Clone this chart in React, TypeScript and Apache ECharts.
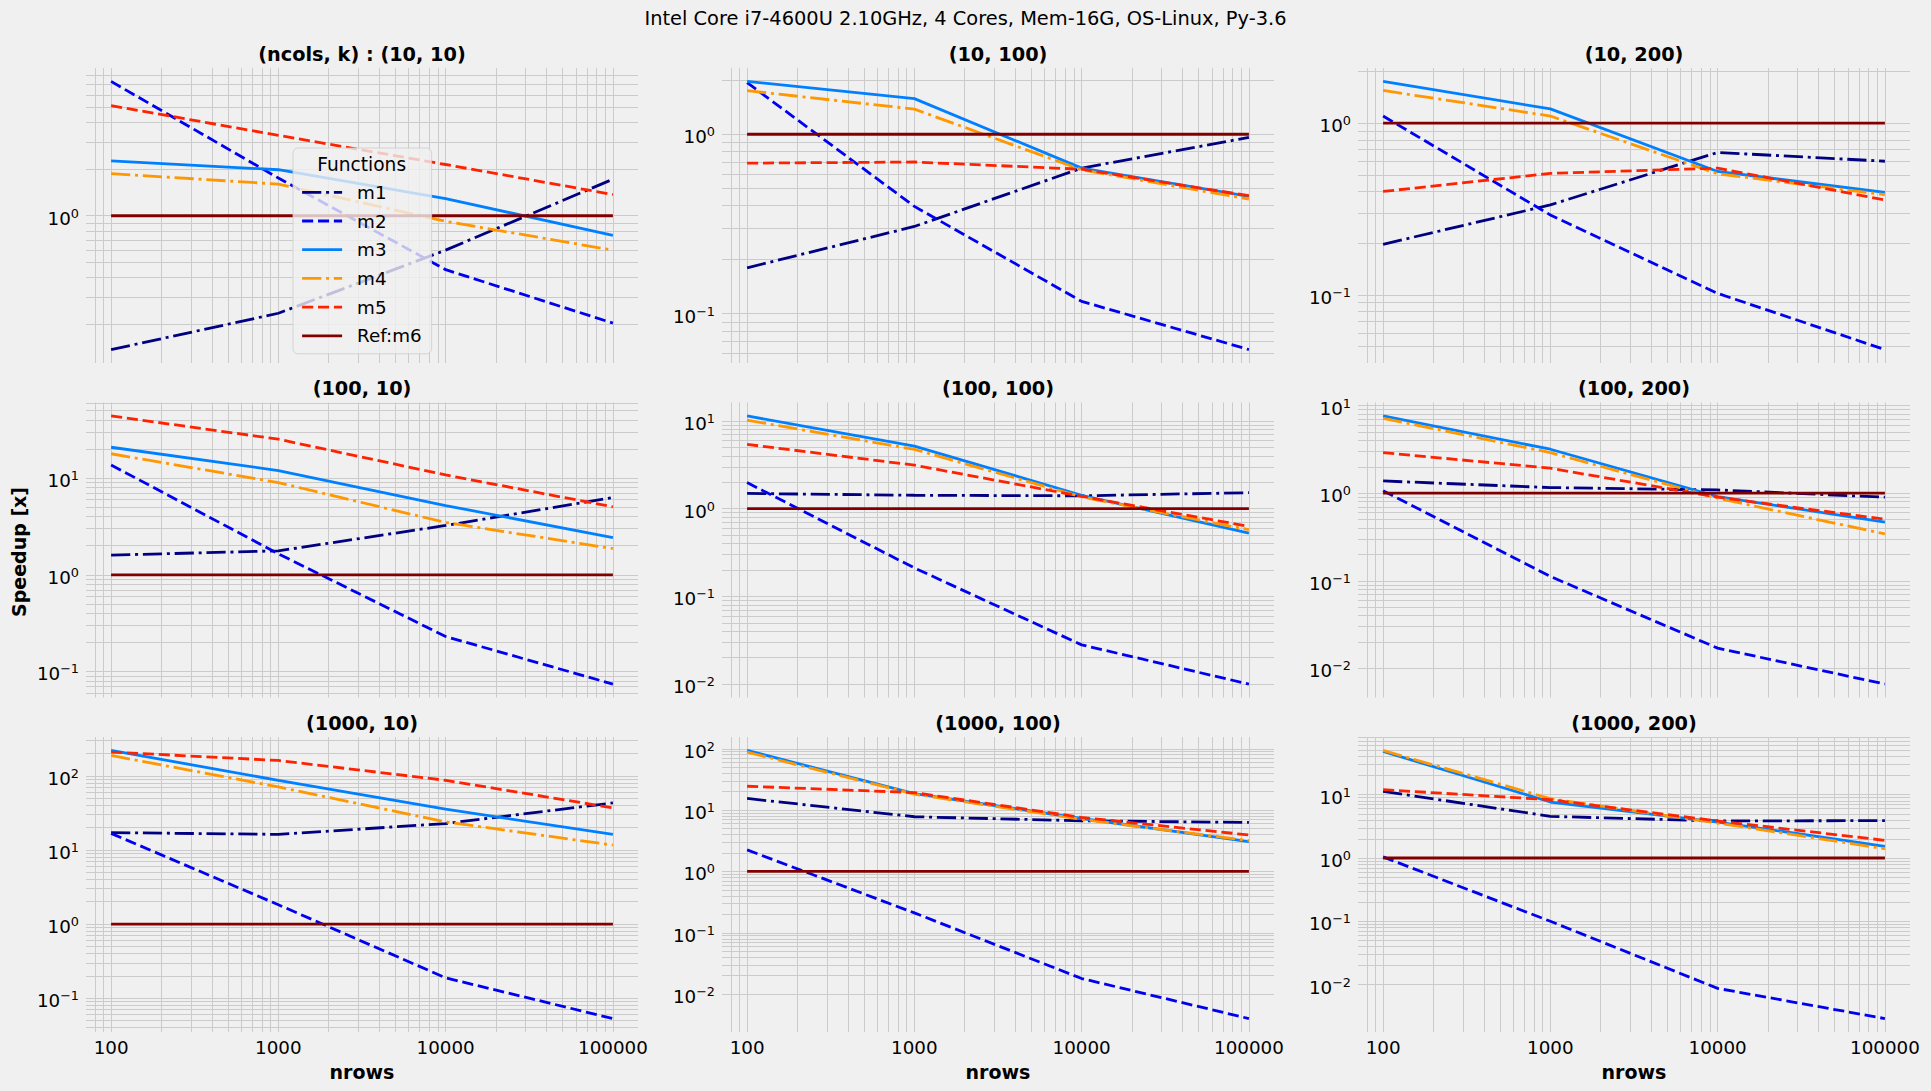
import React, { useEffect, useRef } from 'react';
import * as echarts from 'echarts';

// ---------------- data ----------------
const NROWS = [100, 1000, 10000, 100000];

const PANEL_TITLES = [
  '(ncols, k) : (10, 10)', '(10, 100)', '(10, 200)',
  '(100, 10)', '(100, 100)', '(100, 200)',
  '(1000, 10)', '(1000, 100)', '(1000, 200)',
];

const SUPTITLE = 'Intel Core i7-4600U 2.10GHz, 4 Cores, Mem-16G, OS-Linux, Py-3.6';
const X_LABEL = 'nrows';
const Y_LABEL = 'Speedup [x]';
const LEGEND_TITLE = 'Functions';
const SERIES_NAMES = ['m1', 'm2', 'm3', 'm4', 'm5', 'Ref:m6'];

// speedup per panel (row-major), values at NROWS
const M1 = [
  [0.137, 0.235, 0.6, 1.72],
  [0.18, 0.306, 0.647, 0.96],
  [0.197, 0.334, 0.675, 0.6],
  [1.6, 1.77, 3.24, 6.3],
  [1.49, 1.42, 1.4, 1.52],
  [1.38, 1.16, 1.09, 0.9],
  [17.1, 16.2, 22.7, 43.1],
  [15.5, 7.8, 6.7, 6.3],
  [11.3, 4.55, 3.84, 3.9],
];
const M2 = [
  [7.35, 1.75, 0.449, 0.203],
  [1.94, 0.396, 0.117, 0.063],
  [1.1, 0.292, 0.102, 0.048],
  [13.7, 1.65, 0.23, 0.074],
  [1.98, 0.211, 0.028, 0.01],
  [1.07, 0.112, 0.017, 0.0066],
  [16.7, 1.82, 0.188, 0.053],
  [2.25, 0.211, 0.018, 0.004],
  [1.04, 0.1, 0.0087, 0.0029],
];
const M3 = [
  [2.26, 1.98, 1.29, 0.747],
  [1.97, 1.58, 0.647, 0.45],
  [1.75, 1.21, 0.523, 0.395],
  [20.9, 12.0, 5.21, 2.43],
  [11.4, 5.16, 1.42, 0.527],
  [7.64, 3.18, 0.916, 0.467],
  [220, 86.9, 35.4, 16.2],
  [94, 18.6, 7.3, 3.06],
  [48.3, 7.66, 3.7, 1.53],
];
const M4 = [
  [1.87, 1.6, 0.92, 0.6],
  [1.75, 1.38, 0.633, 0.435],
  [1.55, 1.1, 0.507, 0.383],
  [17.9, 9.0, 3.48, 1.87],
  [10.2, 4.73, 1.36, 0.575],
  [7.18, 2.91, 0.877, 0.343],
  [188, 70.7, 23.9, 11.6],
  [88, 18.2, 7.06, 3.18],
  [50.1, 8.65, 3.57, 1.4],
];
const M5 = [
  [5.13, 3.3, 2.14, 1.37],
  [0.69, 0.7, 0.638, 0.454],
  [0.4, 0.51, 0.547, 0.357],
  [44.1, 25.3, 10.8, 5.05],
  [5.4, 3.13, 1.38, 0.628],
  [2.91, 1.93, 0.9, 0.505],
  [209, 161, 86.9, 36.9],
  [24.5, 19.3, 7.6, 3.93],
  [12.0, 8.34, 3.84, 1.9],
];
const M6 = [
  [1, 1, 1, 1],
  [1, 1, 1, 1],
  [1, 1, 1, 1],
  [1, 1, 1, 1],
  [1, 1, 1, 1],
  [1, 1, 1, 1],
  [1, 1, 1, 1],
  [1, 1, 1, 1],
  [1, 1, 1, 1],
];
const SERIES_DATA = [M1, M2, M3, M4, M5, M6];

// ---------------- style ----------------
const COLORS = ['#000080', '#0000f1', '#0080ff', '#ff9700', '#ff2200', '#800000'];
const DASHDOT = [19.2, 4.8, 3, 4.8];
const DASHED = [11.1, 4.8];
const LINE_TYPES: any[] = [DASHDOT, DASHED, 'solid', DASHDOT, DASHED, 'solid'];
const FONT = 'DejaVu Sans';
const BG = '#f0f0f0';
const GRID_COLOR = '#cbcbcb';

const LEFTS = [86, 722, 1358];
const TOPS = [68, 402.5, 737];
const W = 552;
const H = 295;

const XMIN = Math.pow(10, 1.85);
const XMAX = Math.pow(10, 5.15);

function pow10Exp(v: number): number | null {
  if (!(v > 0)) return null;
  const e = Math.log10(v);
  const r = Math.round(e);
  return Math.abs(e - r) < 1e-6 ? r : null;
}

function buildOption() {
  const grid: any[] = [];
  const xAxis: any[] = [];
  const yAxis: any[] = [];
  const series: any[] = [];
  const graphic: any[] = [];

  const textEl = (text: string, x: number, y: number, size: number, weight: string, rotation = 0) => ({
    type: 'text',
    x,
    y,
    rotation,
    z: 50,
    silent: true,
    style: {
      text,
      fill: '#000',
      fontSize: size,
      fontWeight: weight,
      fontFamily: FONT,
      textAlign: 'center',
      textVerticalAlign: 'middle',
      align: 'center',
      verticalAlign: 'middle',
    },
  });

  graphic.push(textEl(SUPTITLE, 965.5, 18.5, 19.4, 'normal'));
  graphic.push(textEl(Y_LABEL, 18.5, 552, 19, 'bold', Math.PI / 2));
  graphic.push(textEl(LEGEND_TITLE, 361.7, 164, 18.6, 'normal'));

  for (let i = 0; i < 9; i++) {
    const r = Math.floor(i / 3);
    const c = i % 3;
    grid.push({ left: LEFTS[c], top: TOPS[r], width: W, height: H, containLabel: false });

    graphic.push(textEl(PANEL_TITLES[i], LEFTS[c] + W / 2, TOPS[r] - 14, 19.3, 'bold'));
    if (r === 2) graphic.push(textEl(X_LABEL, LEFTS[c] + W / 2, 1071.7, 19, 'bold'));

    // y range: data extent in log space with 5% margins
    const all: number[] = [];
    SERIES_DATA.forEach((d) => d[i].forEach((v) => all.push(Math.log10(v))));
    const lo = Math.min(...all);
    const hi = Math.max(...all);
    const span = hi - lo;
    const yMin = Math.pow(10, lo - 0.05 * span);
    const yMax = Math.pow(10, hi + 0.05 * span);

    xAxis.push({
      type: 'log',
      logBase: 10,
      gridIndex: i,
      min: XMIN,
      max: XMAX,
      axisLine: { show: false, onZero: false },
      axisTick: { show: false },
      splitLine: { show: false },
      axisLabel: {
        show: r === 2,
        interval: 0,
        showMinLabel: false,
        showMaxLabel: false,
        hideOverlap: false,
        margin: 5,
        fontSize: 18.3,
        lineHeight: 20,
        fontFamily: FONT,
        color: '#000',
        formatter: (v: number) => {
          const e = pow10Exp(v);
          return e === null ? '' : String(Math.round(Math.pow(10, e)));
        },
      },
    });

    yAxis.push({
      type: 'log',
      logBase: 10,
      gridIndex: i,
      min: yMin,
      max: yMax,
      axisLine: { show: false, onZero: false },
      axisTick: { show: false },
      splitLine: { show: false },
      axisLabel: {
        show: true,
        interval: 0,
        showMinLabel: false,
        showMaxLabel: false,
        hideOverlap: false,
        margin: 7,
        fontFamily: FONT,
        color: '#000',
        formatter: (v: number) => {
          const e = pow10Exp(v);
          if (e === null) return '';
          const s = e < 0 ? '\u2212' + String(-e) : String(e);
          return '{b|10}{s|' + s + '}';
        },
        rich: {
          b: { fontSize: 18.3, fontFamily: FONT, color: '#000', lineHeight: 20, padding: [5, 0, 0, 0] },
          s: { fontSize: 12.8, fontFamily: FONT, color: '#000', lineHeight: 13, padding: [0, 0, 5, 0] },
        },
      },
    });

    // grid lines (major + minor), drawn through the axes as mark lines
    const gl: any[] = [];
    for (let d = 1; d <= 5; d++) {
      for (let k = 1; k <= 9; k++) {
        const v = k * Math.pow(10, d);
        if (v > XMIN && v < XMAX) gl.push({ xAxis: v });
      }
    }
    for (let d = Math.floor(Math.log10(yMin)); d <= Math.ceil(Math.log10(yMax)); d++) {
      for (let k = 1; k <= 9; k++) {
        const v = k * Math.pow(10, d);
        if (v > yMin && v < yMax) gl.push({ yAxis: v });
      }
    }
    series.push({
      type: 'line',
      name: '_grid' + i,
      xAxisIndex: i,
      yAxisIndex: i,
      data: [],
      symbol: 'none',
      silent: true,
      z: 1,
      animation: false,
      lineStyle: { opacity: 0 },
      markLine: {
        silent: true,
        animation: false,
        z: 1,
        symbol: ['none', 'none'],
        label: { show: false },
        emphasis: { disabled: true },
        lineStyle: { color: GRID_COLOR, width: 1, type: 'solid', opacity: 1 },
        data: gl,
      },
    });

    SERIES_NAMES.forEach((name, s) => {
      series.push({
        type: 'line',
        name,
        xAxisIndex: i,
        yAxisIndex: i,
        data: NROWS.map((x, k) => [x, SERIES_DATA[s][i][k]]),
        symbol: 'none',
        showSymbol: false,
        silent: true,
        z: 10,
        animation: false,
        itemStyle: { color: COLORS[s] },
        lineStyle: { color: COLORS[s], width: 2.8, type: LINE_TYPES[s], cap: 'butt' },
      });
    });
  }

  return {
    animation: false,
    backgroundColor: BG,
    grid,
    xAxis,
    yAxis,
    series,
    graphic,
    legend: {
      data: SERIES_NAMES,
      orient: 'vertical',
      left: 293,
      top: 148,
      itemWidth: 40,
      itemHeight: 14,
      itemGap: 8.7,
      padding: [34.3, 10, 8, 7.7],
      backgroundColor: 'rgba(240,240,240,0.8)',
      borderColor: 'rgba(204,204,204,0.8)',
      borderWidth: 1,
      borderRadius: 5,
      selectedMode: false,
      z: 20,
      itemStyle: { opacity: 0, borderWidth: 0 },
      lineStyle: { width: 2.8, opacity: 1 },
      textStyle: { fontSize: 18.3, fontFamily: FONT, color: '#000', lineHeight: 20, padding: [0, 0, 0, 10] },
    },
  };
}

export default function App() {
  const ref = useRef<HTMLDivElement>(null);
  useEffect(() => {
    document.body.style.margin = '0';
    document.body.style.background = BG;
    if (!ref.current) return;
    const chart = echarts.init(ref.current, null, { renderer: 'svg' });
    chart.setOption(buildOption() as any);
    return () => chart.dispose();
  }, []);
  return <div ref={ref} style={{ width: 1931, height: 1091 }} />;
}
